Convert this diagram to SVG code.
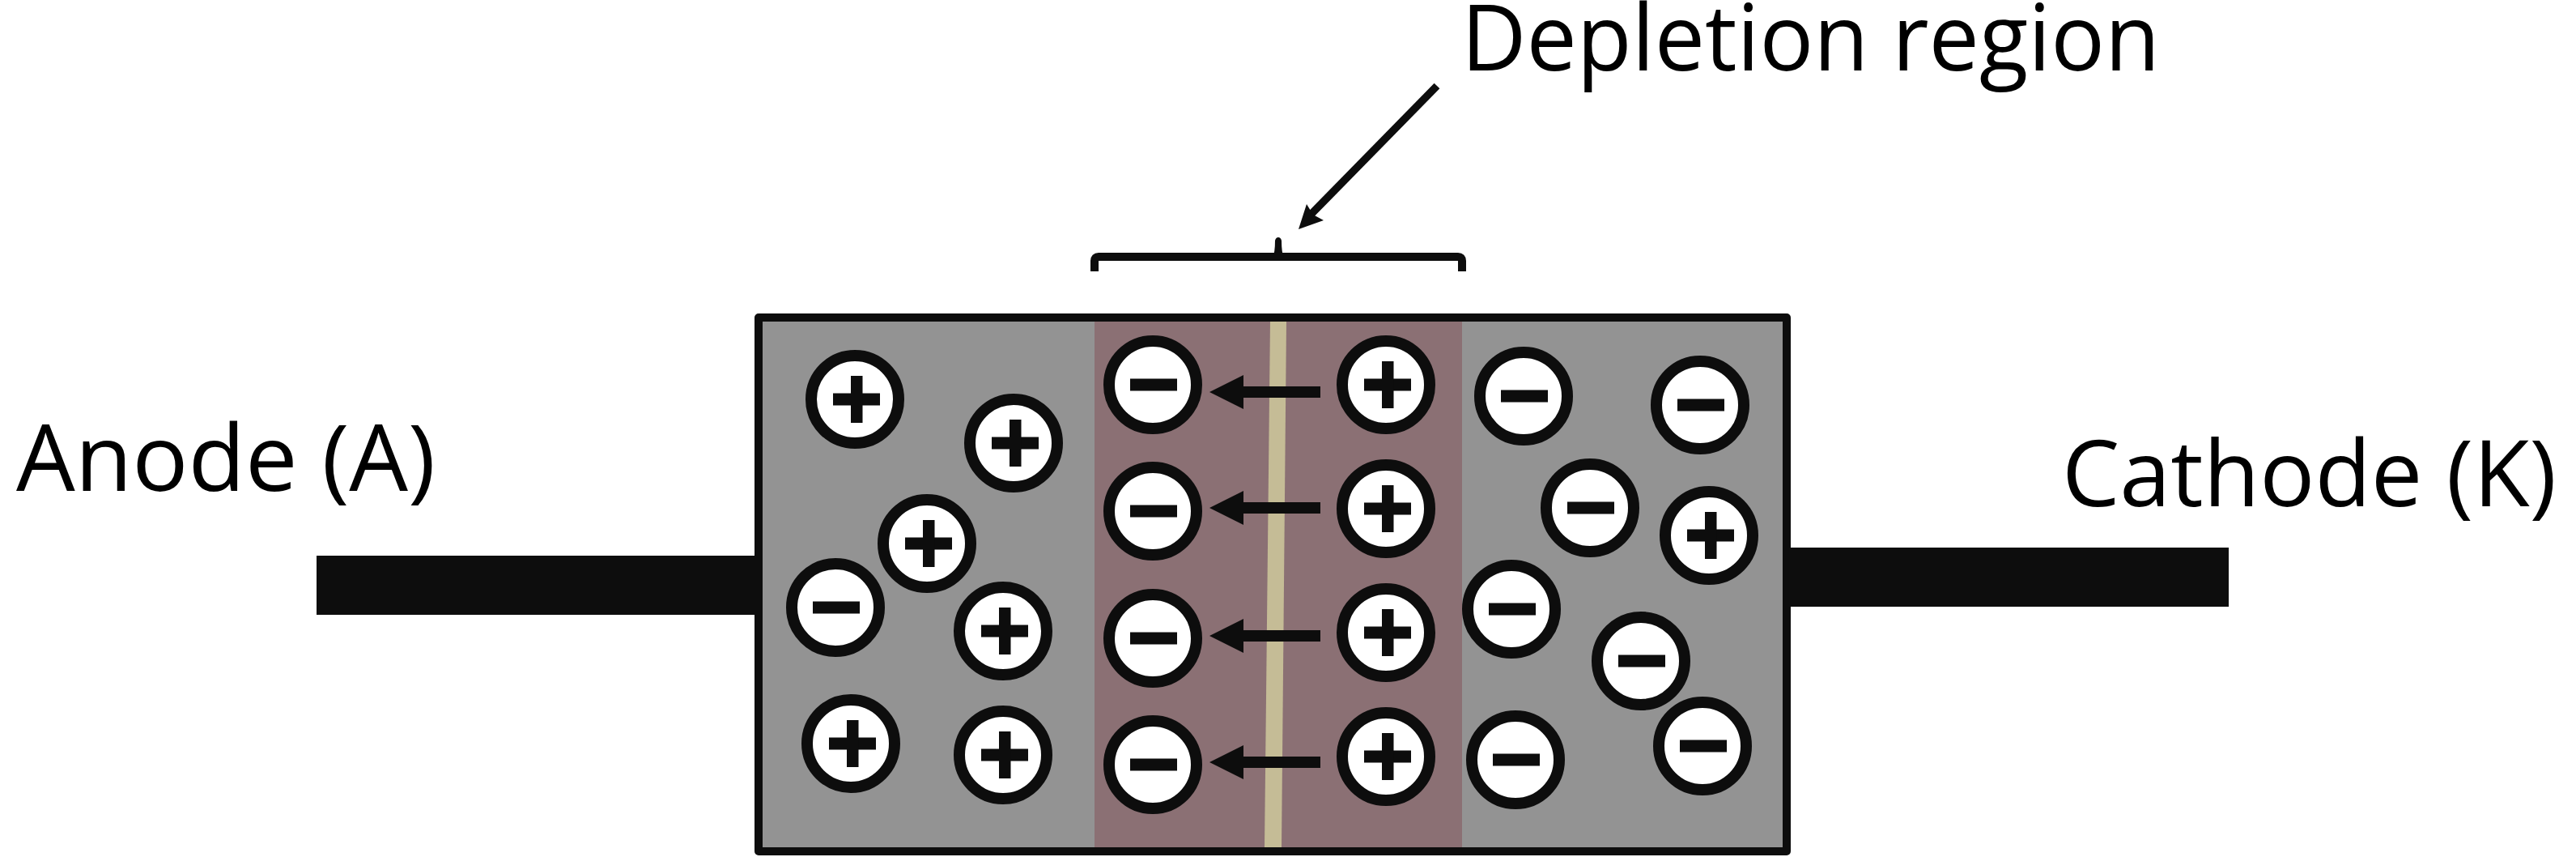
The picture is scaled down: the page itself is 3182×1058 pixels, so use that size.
<svg xmlns="http://www.w3.org/2000/svg" xmlns:xlink="http://www.w3.org/1999/xlink" width="3182" height="1058" viewBox="0 0 3182 1058">
<style>
.ink{fill:#0d0d0d}
.ring{fill:#fff;stroke:#0d0d0d;stroke-width:14}
.label{font-family:"Open Sans","Noto Sans",sans-serif;font-size:113px;fill:#000}
</style>
<defs>
<g id="pos"><circle class="ring" r="54"/><rect class="ink" x="-27" y="-7.500" width="58" height="15"/><rect class="ink" x="-5" y="-29" width="14.500" height="58"/></g>
<g id="neg"><circle class="ring" r="54"/><rect class="ink" x="-28" y="-7.500" width="58" height="15"/></g>
<path id="fieldArrow" class="ink" d="M0 0L42-21V-7H137V7H42V21Z"/>
</defs>
<rect width="3182" height="1058" fill="#fff"/>
<g id="lead-anode"><rect class="ink" x="391" y="686" width="546" height="73"/></g>
<g id="lead-cathode"><rect class="ink" x="2207" y="676" width="546" height="73"/></g>
<g id="body">
<rect x="937" y="392" width="1270" height="659" fill="#939393"/>
<rect x="1352" y="397" width="454" height="649" fill="#8b7074"/>
<path d="M1569 397H1589L1583 1046H1562Z" fill="#c5bc96"/>
<rect x="937" y="392" width="1270" height="659" fill="none" stroke="#0d0d0d" stroke-width="10" stroke-linejoin="round"/>
</g>
<g id="particles-p">
<use id="p1" href="#pos" x="1056" y="493"/>
<use id="p2" href="#pos" x="1252" y="547"/>
<use id="p3" href="#pos" x="1145" y="671"/>
<use id="p4" href="#neg" x="1032" y="750"/>
<use id="p5" href="#pos" x="1239" y="779"/>
<use id="p6" href="#pos" x="1051" y="918"/>
<use id="p7" href="#pos" x="1239" y="932"/>
</g>
<g id="depletion-charges">
<use id="dn1" href="#neg" x="1424" y="475"/>
<use id="dn2" href="#neg" x="1424" y="631"/>
<use id="dn3" href="#neg" x="1424" y="788"/>
<use id="dn4" href="#neg" x="1424" y="944"/>
<use id="dp1" href="#pos" x="1712" y="475"/>
<use id="dp2" href="#pos" x="1712" y="628"/>
<use id="dp3" href="#pos" x="1712" y="781"/>
<use id="dp4" href="#pos" x="1712" y="934"/>
</g>
<g id="particles-n">
<use id="n1" href="#neg" x="1882" y="489"/>
<use id="n2" href="#neg" x="2100" y="500"/>
<use id="n3" href="#neg" x="1964" y="627"/>
<use id="n4" href="#pos" x="2111" y="661"/>
<use id="n5" href="#neg" x="1867" y="752"/>
<use id="n6" href="#neg" x="2027" y="816"/>
<use id="n7" href="#neg" x="2103" y="921"/>
<use id="n8" href="#neg" x="1872" y="938"/>
</g>
<g id="connectors">
<use href="#fieldArrow" x="1494" y="484"/>
<use href="#fieldArrow" x="1494" y="627"/>
<use href="#fieldArrow" x="1494" y="785"/>
<use href="#fieldArrow" x="1494" y="941"/>
<path d="M1775 106L1620 264" fill="none" stroke="#0d0d0d" stroke-width="9.500"/>
<path class="ink" d="M1604 283L1614 252L1622 265L1635 272Z"/>
</g>
<g id="brace">
<path d="M1352 335V322Q1352 317 1357 317H1801Q1806 317 1806 322V335" fill="none" stroke="#0d0d0d" stroke-width="10"/>
<path class="ink" d="M1572 318Q1575 312 1575 297Q1576 293 1579 293Q1582 293 1583 297Q1583 312 1586 318Z"/>
</g>
<g id="label-depletion"><text class="label" x="1805" y="87" textLength="863" lengthAdjust="spacingAndGlyphs">Depletion region</text></g>
<g id="label-anode"><text class="label" x="20" y="606" textLength="518" lengthAdjust="spacingAndGlyphs">Anode (A)</text></g>
<g id="label-cathode"><text class="label" x="2547" y="625" textLength="611" lengthAdjust="spacingAndGlyphs">Cathode (K)</text></g>
</svg>
